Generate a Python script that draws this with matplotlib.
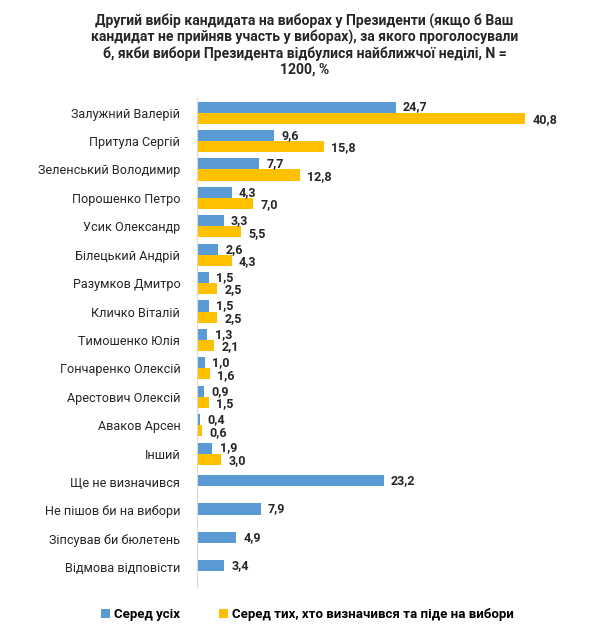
import numpy as np
import matplotlib.pyplot as plt

# categories, top to bottom
names = ["Залужний Валерій", "Притула Сергій", "Зеленський Володимир",
         "Порошенко Петро", "Усик Олександр", "Білецький Андрій",
         "Разумков Дмитро", "Кличко Віталій", "Тимошенко Юлія",
         "Гончаренко Олексій", "Арестович Олексій", "Аваков Арсен", "Інший",
         "Ще не визначився", "Не пішов би на вибори", "Зіпсував би бюлетень",
         "Відмова відповісти"]
# "Серед усіх"
all_vals = [24.7, 9.6, 7.7, 4.3, 3.3, 2.6, 1.5, 1.5, 1.3, 1.0, 0.9, 0.4, 1.9,
            23.2, 7.9, 4.9, 3.4]
# "Серед тих, хто визначився та піде на вибори" (None = no bar)
dec_vals = [40.8, 15.8, 12.8, 7.0, 5.5, 4.3, 2.5, 2.5, 2.1, 1.6, 1.5, 0.6, 3.0,
            None, None, None, None]

title = ("Другий вибір кандидата на виборах у Президенти (якщо б Ваш\n"
         "кандидат не прийняв участь у виборах), за якого проголосували\n"
         "б, якби вибори Президента відбулися найближчої неділі, N =\n"
         "1200, %")
legend_labels = ["Серед усіх", "Серед тих, хто визначився та піде на вибори"]

blue = "#5B9BD5"
yellow = "#FFC000"

plt.rcParams['font.family'] = ['Roboto', 'DejaVu Sans']

fig = plt.figure(figsize=(6.09, 6.30), dpi=100)
ax = fig.add_axes([0.3235, 0.068, 0.66, 0.778])

y = np.arange(len(names))
h = 0.39

for i, (a, d) in enumerate(zip(all_vals, dec_vals)):
    if d is None:
        yb = y[i] - 0.05
    else:
        yb = y[i] - h / 2
    ax.barh(yb, a, height=h, color=blue, label=legend_labels[0] if i == 0 else None)
    ax.text(a + 0.9, yb, f"{a:.1f}".replace(".", ","), va="center", ha="left",
            fontsize=9, fontweight="bold", color="#262626")
    if d is not None:
        yd = y[i] + h / 2
        ax.barh(yd, d, height=h, color=yellow, label=legend_labels[1] if i == 0 else None)
        ax.text(d + 0.9, yd + 0.05, f"{d:.1f}".replace(".", ","), va="center", ha="left",
                fontsize=9, fontweight="bold", color="#262626")

ax.set_yticks(y)
ax.set_yticklabels(names, fontsize=9.1, color="#262626")
ax.set_ylim(len(names) - 0.3, -0.55)
ax.set_xlim(0, 50)
ax.set_xticks([])
ax.tick_params(axis="y", length=0, pad=12)
for s in ["top", "right", "bottom"]:
    ax.spines[s].set_visible(False)
ax.spines["left"].set_color("#d9d9d9")

fig.text(0.50, 0.978, title, ha="center", va="top", fontsize=10.1,
         fontweight="bold", color="#262626", linespacing=1.12)

fig.legend(loc="center", bbox_to_anchor=(0.505, 0.025), ncol=2, frameon=False,
           prop={"weight": "bold", "size": 9.5},
           handlelength=0.65, handleheight=0.65, handletextpad=0.3, columnspacing=3.0)

fig.savefig("out.png", dpi=100)
